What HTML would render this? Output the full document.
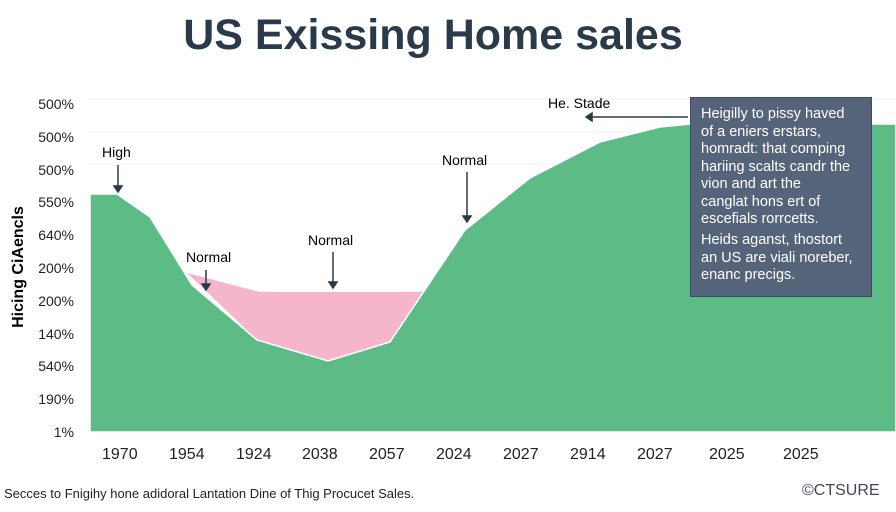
<!DOCTYPE html>
<html><head><style>
body{margin:0;width:896px;height:512px;background:#fff;font-family:"Liberation Sans",sans-serif;overflow:hidden;position:relative}
.t{position:absolute;white-space:nowrap}
</style></head><body>
<div class="t" style="left:0;width:866px;text-align:center;top:11px;font-size:43px;font-weight:bold;color:#2b3a4a">US Exissing Home sales</div>
<svg width="896" height="512" style="position:absolute;left:0;top:0">
<g stroke="#f0f0f0" stroke-width="1">
<line x1="88" x2="896" y1="99" y2="99"/><line x1="88" x2="896" y1="132" y2="132"/><line x1="88" x2="896" y1="164" y2="164"/>
</g>
<polygon fill="#f5b6cc" points="187,273 260,292 420,292 428,289 390,342 328,361 257,340 205,290"/>
<polygon fill="#5dbb85" stroke="#fff" stroke-width="1.5" points="90,194 117,194 150,217 192,285 257,340 328,361 390,342 465,230 530,178 600,142 660,127 690,124 896,124 896,432 90,432"/>
<g stroke="#2b3a4a" stroke-width="1.5" fill="#2b3a4a">
<line x1="118" y1="165" x2="118" y2="188"/><polygon points="114,186 122,186 118,192"/>
<line x1="206" y1="270" x2="206" y2="286"/><polygon points="202,284 210,284 206,290"/>
<line x1="333" y1="252" x2="333" y2="284"/><polygon points="329,282 337,282 333,288"/>
<line x1="467" y1="172" x2="467" y2="218"/><polygon points="463,216 471,216 467,222"/>
<line x1="592" y1="117" x2="688" y2="117"/><polygon points="586,117 592,113 592,121"/>
</g>
</svg>
<div style="position:absolute;left:690px;top:97px;width:182px;height:200px;background:#55647a;border:1px solid #3e4b5e;box-sizing:border-box"></div>
<div class="t" style="left:701px;top:106px;font-size:14.5px;line-height:17.5px;color:#fff">Heigilly to pissy haved<br>of a eniers erstars,<br>homradt: that comping<br>hariing scalts candr the<br>vion and art the<br>canglat hons ert of<br>escefials rorrcetts.</div>
<div class="t" style="left:701px;top:232px;font-size:14.5px;line-height:17.5px;color:#fff">Heids aganst, thostort<br>an US are viali noreber,<br>enanc precigs.</div>
<div style="position:absolute;left:34px;top:88px;width:40px;text-align:right;font-size:14px;line-height:32.8px;color:#222">500%<br>500%<br>500%<br>550%<br>640%<br>200%<br>200%<br>140%<br>540%<br>190%<br>1%</div>
<div class="t" style="left:-56px;top:258px;transform:rotate(-90deg);font-size:16px;font-weight:bold;width:150px;text-align:center">Hicing CiAencls</div>
<div class="t" style="left:102px;top:144px;font-size:14px">High</div>
<div class="t" style="left:186px;top:249px;font-size:14px">Normal</div>
<div class="t" style="left:308px;top:232px;font-size:14px">Normal</div>
<div class="t" style="left:442px;top:152px;font-size:14px">Normal</div>
<div class="t" style="left:548px;top:95px;font-size:14px">He. Stade</div>
<div class="t" style="left:0;top:446px;font-size:16px;color:#222;width:896px">
<span class="t" style="left:102px">1970</span><span class="t" style="left:169px">1954</span><span class="t" style="left:236px">1924</span><span class="t" style="left:302px">2038</span><span class="t" style="left:369px">2057</span><span class="t" style="left:436px">2024</span><span class="t" style="left:503px">2027</span><span class="t" style="left:570px">2914</span><span class="t" style="left:637px">2027</span><span class="t" style="left:709px">2025</span><span class="t" style="left:783px">2025</span></div>
<div class="t" style="left:4px;top:486px;font-size:13px;color:#222">Secces to Fnigihy hone adidoral Lantation Dine of Thig Procucet Sales.</div>
<div class="t" style="left:802px;top:482px;font-size:16px;color:#445">©CTSURE</div>
</body></html>
